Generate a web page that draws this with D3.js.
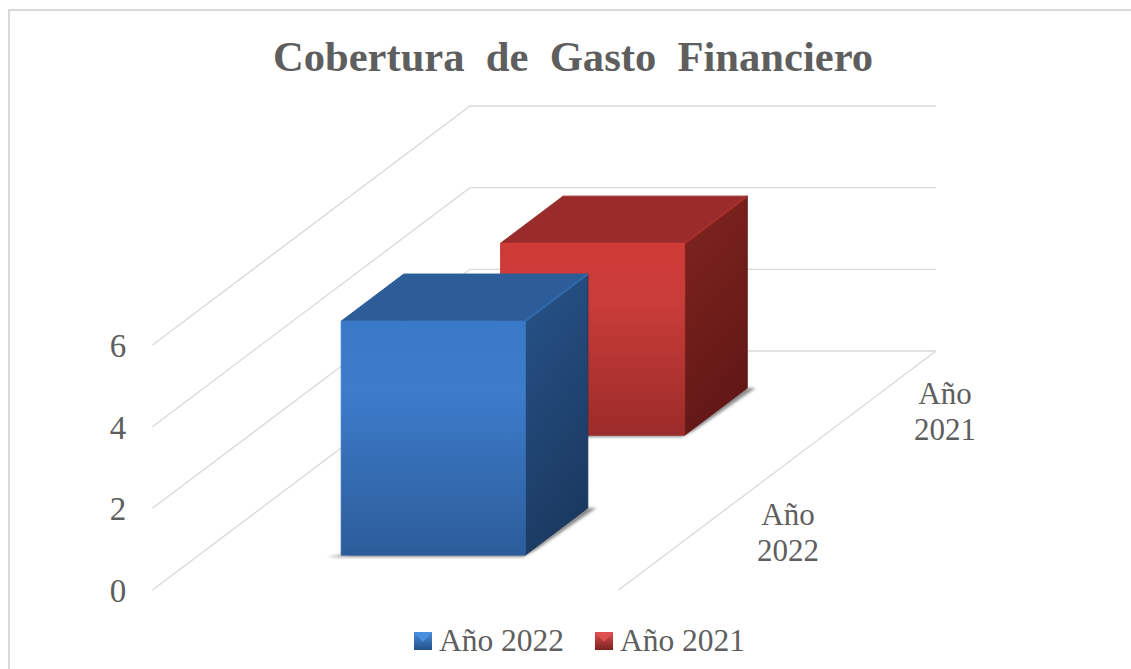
<!DOCTYPE html>
<html><head><meta charset="utf-8">
<script src="https://cdn.jsdelivr.net/npm/d3@7/dist/d3.min.js"></script>
<style>html,body{margin:0;padding:0;background:#fff}svg{display:block}text{font-family:"Liberation Serif",serif;fill:#5e5e5e}</style>
</head><body><svg id="c" width="1131" height="669"></svg>
<script>
const titleText = "Cobertura  de  Gasto  Financiero";
const categories = ["Año 2022", "Año 2021"];
const values = [5.73, 4.7];
const yTicks = [0, 2, 4, 6];

const svg = d3.select("#c");
const defs = svg.append("defs");

// oblique projection: u across, v value, d depth
const yScale = d3.scaleLinear().domain([0, 6]).range([590, 345]);
const uScale = d3.scaleLinear().domain([0, 1]).range([0, 466]);
const depth = d3.scaleBand().domain(categories).range([0, 1]);
const depthX = d3.scaleLinear().domain([0, 1]).range([152.5, 470]);
const depthY = d3.scaleLinear().domain([0, 1]).range([0, -239]);
const P = (u, v, d) => [depthX(d) + uScale(u), yScale(v) + depthY(d)];
const path = d3.line();

function grad(id, x1, y1, x2, y2, stops) {
  const g = defs.append("linearGradient").attr("id", id).attr("x1", x1).attr("y1", y1).attr("x2", x2).attr("y2", y2);
  stops.forEach(([o, c]) => g.append("stop").attr("offset", o).attr("stop-color", c));
}
const palettes = [
  {front: ["#3a78c8", "#3d7ccb", "#2c5c9a"], top: "#2c5d98", side: ["#27538a", "#1b3a61"], edge: "#3269ad", sw: ["#4a8fe0", "#234f85"]},
  {front: ["#cf3b37", "#c93c39", "#9b2b29"], top: "#992b2a", side: ["#80241f", "#621816"], edge: "#aa2f2c", sw: ["#e05050", "#7a2020"]}
];
palettes.forEach((p, i) => {
  grad("f" + i, 0, 0, 0, 1, [[0, p.front[0]], [0.3, p.front[1]], [1, p.front[2]]]);
  grad("s" + i, 0, 0, 0.3, 1, [[0, p.side[0]], [1, p.side[1]]]);
  grad("l" + i, 0, 0, 0, 1, [[0, p.sw[0]], [1, p.sw[1]]]);
});
const blur = defs.append("filter").attr("id", "blur").attr("x", "-10%").attr("y", "-20%").attr("width", "120%").attr("height", "140%");
blur.append("feGaussianBlur").attr("stdDeviation", 1.4);

// chart border
svg.append("path").attr("d", "M9,669V10H1131").attr("fill", "none").attr("stroke", "#d9d9d9").attr("stroke-width", 2);

// walls and gridlines
const grid = svg.append("g").attr("fill", "none").attr("stroke", "#d9d9d9").attr("stroke-width", 1.3);
yTicks.forEach(t => {
  grid.append("path").attr("d", path([P(0, t, 0), P(0, t, 1), P(1, t, 1)]));
});
grid.append("path").attr("d", path([P(1, 0, 1), P(1, 0, 0)]));

// y tick labels
svg.append("g").selectAll("text").data(yTicks).join("text")
  .attr("x", 118).attr("y", d => yScale(d) + 12).attr("text-anchor", "middle")
  .attr("font-size", 33).text(d => d);

// bars, back first
const uA = 0.3055, uB = 0.7005;
const order = categories.map((c, i) => i).reverse();
order.forEach(i => {
  const d0 = depth(categories[i]) + (i === 0 ? 0.146 : 0.148);
  const d1 = d0 + 0.197;
  const v = values[i];
  const g = svg.append("g");
  const face = (pts, fill, stroke) => g.append("path").attr("d", path(pts) + "Z").attr("fill", fill)
    .attr("stroke", stroke || fill).attr("stroke-width", 1).attr("stroke-linejoin", "round");
  // floor shadow
  g.append("path").attr("filter", "url(#blur)").attr("fill", "#8c8c8c")
    .attr("d", path([P(uA - 0.025, 0, d0 - 0.008), P(uB, 0, d0 - 0.008), P(uB + 0.008, 0, d0 + 0.02), P(uB + 0.018, 0, d1), P(uB, 0, d1), P(uA, 0, d0)]) + "Z");
  face([P(uA, v, d0), P(uB, v, d0), P(uB, v, d1), P(uA, v, d1)], palettes[i].top);
  face([P(uB, 0, d0), P(uB, 0, d1), P(uB, v, d1), P(uB, v, d0)], `url(#s${i})`, palettes[i].side[1]);
  face([P(uA, 0, d0), P(uB, 0, d0), P(uB, v, d0), P(uA, v, d0)], `url(#f${i})`);
  g.append("path").attr("d", path([P(uB, v, d0), P(uB, v, d1)])).attr("stroke", palettes[i].edge).attr("stroke-width", 2);
});

// category labels
const catLab = [{w: "Año", n: "2022", x: 788, y: 524.5}, {w: "Año", n: "2021", x: 945, y: 403.5}];
catLab.forEach(l => {
  const t = svg.append("text").attr("text-anchor", "middle").attr("font-size", 31);
  t.append("tspan").attr("x", l.x).attr("y", l.y).text(l.w);
  t.append("tspan").attr("x", l.x).attr("y", l.y + 36).text(l.n);
});

// title
svg.append("text").attr("x", 573).attr("y", 71).attr("text-anchor", "middle").attr("font-size", 42.6).attr("font-weight", "bold")
  .style("white-space", "pre").text(titleText);

// legend
const lx = [414, 595];
categories.forEach((c, i) => {
  svg.append("rect").attr("x", lx[i]).attr("y", 632).attr("width", 18).attr("height", 18).attr("fill", `url(#l${i})`);
  svg.append("path").attr("d", `M${lx[i]},632h18l-9,10Z`).attr("fill", palettes[i].sw[0]);
  svg.append("text").attr("x", lx[i] + 25).attr("y", 651).attr("font-size", 31.5).text(c);
});
</script></body></html>
